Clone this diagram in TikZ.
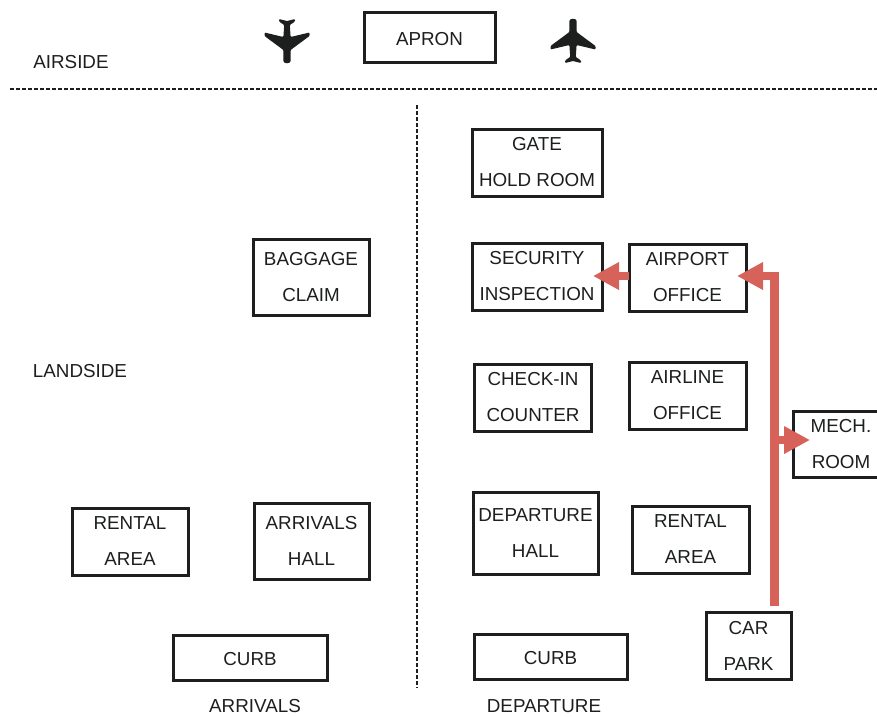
\documentclass[tikz,border=0pt]{standalone}
\usepackage{fontspec}
\setmainfont{Liberation Sans}
\usetikzlibrary{arrows.meta}
\definecolor{ink}{HTML}{1C1F1E}
\definecolor{redline}{HTML}{D6625A}
\tikzset{
  x=1pt,y=-1pt,
  roombox/.style={draw=ink,line width=3pt,align=center,inner sep=0pt,outer sep=0pt,text=ink,
    font=\fontsize{18.8}{36}\selectfont,execute at begin node={\rule{0pt}{16.5pt}}},
  plainlabel/.style={text=ink,inner sep=0pt,font=\fontsize{18.8}{22}\selectfont},
  divider/.style={ink,line width=2pt,dash pattern=on 4pt off 2pt},
  redconn/.style={redline,line width=9pt},
  redarrow/.style={redline,line width=8pt,-{Triangle[length=26pt,width=26pt,sep=0pt]}},
  planeshape/.pic={
    \fill[ink,rounded corners=1pt]
      (-3.6,-19) .. controls (-3.6,-23) and (3.6,-23) .. (3.6,-19)
      -- (3.6,-9) -- (22.5,5) -- (22.5,8.5) -- (3.6,4) -- (2.8,16) -- (8,19.5) -- (8,22) -- (0,20)
      -- (-8,22) -- (-8,19.5) -- (-2.8,16) -- (-3.6,4) -- (-22.5,8.5) -- (-22.5,5) -- (-3.6,-9) -- cycle;
  }
}
\begin{document}
\begin{tikzpicture}
\useasboundingbox (0,0) rectangle (877,716);
\fill[white] (0,0) rectangle (877,716);
\clip (0,0) rectangle (877,716);

\node[roombox,minimum width=131pt,minimum height=50pt] (apron) at (429.5,37) {APRON};
\node[roombox,minimum width=130pt,minimum height=67pt] (gate) at (537,162.5) {GATE\\HOLD ROOM};
\node[roombox,minimum width=130pt,minimum height=67pt] (security) at (537,276.5) {SECURITY\\INSPECTION};
\node[roombox,minimum width=117pt,minimum height=67pt] (airport) at (687.5,277.5) {AIRPORT\\OFFICE};
\node[roombox,minimum width=117pt,minimum height=67pt] (checkin) at (533,397.5) {CHECK-IN\\COUNTER};
\node[roombox,minimum width=117pt,minimum height=67pt] (airline) at (687.5,395.5) {AIRLINE\\OFFICE};
\node[roombox,minimum width=96pt,minimum height=66pt] (mech) at (841,444) {MECH.\\ROOM};
\node[roombox,minimum width=125pt,minimum height=82pt] (dephall) at (535.5,533) {DEPARTURE\\HALL};
\node[roombox,minimum width=117pt,minimum height=67pt] (rentalr) at (690.5,539.5) {RENTAL\\AREA};
\node[roombox,minimum width=85pt,minimum height=67pt] (carpark) at (748.5,645.5) {CAR\\PARK};
\node[roombox,minimum width=153pt,minimum height=45pt] (curbr) at (550.5,656.5) {CURB};
\node[roombox,minimum width=154pt,minimum height=45pt] (curbl) at (250,657.5) {CURB};
\node[roombox,minimum width=116pt,minimum height=67pt] (rentall) at (130,541.5) {RENTAL\\AREA};
\node[roombox,minimum width=115pt,minimum height=76pt] (arrhall) at (311.5,541) {ARRIVALS\\HALL};
\node[roombox,minimum width=116pt,minimum height=76pt] (baggage) at (311,277) {BAGGAGE\\CLAIM};

\node[plainlabel] (airside) at (71,62) {AIRSIDE};
\node[plainlabel] (landside) at (80,371) {LANDSIDE};
\node[plainlabel] (arrivals) at (255,706.5) {ARRIVALS};
\node[plainlabel] (departure) at (544,706.5) {DEPARTURE};

\pic at (287,41) [rotate=180] {planeshape};
\pic at (573,41) {planeshape};

\coordinate (hdivl) at (10,89);
\coordinate (hdivr) at (877,89);
\coordinate (vdivt) at (417,105);
\coordinate (vdivb) at (417,688);
\draw[divider] (hdivl) -- (hdivr);
\draw[divider,line width=1.6pt] (vdivt) -- (vdivb);

\coordinate (busbottom) at (774.5,606);
\coordinate (bustop) at (774.5,276);
\coordinate (busmech) at (774.5,440);
\draw[redconn] (busbottom) -- (774.5,272);
\draw[redarrow,shorten >=-9pt] (779,276) -- (airport.east |- bustop);
\draw[redarrow,shorten >=-9pt] (airport.west |- bustop) -- (security.east |- bustop);
\draw[redarrow,shorten >=-17pt] (busmech) -- (mech.west |- busmech);
\end{tikzpicture}
\end{document}
